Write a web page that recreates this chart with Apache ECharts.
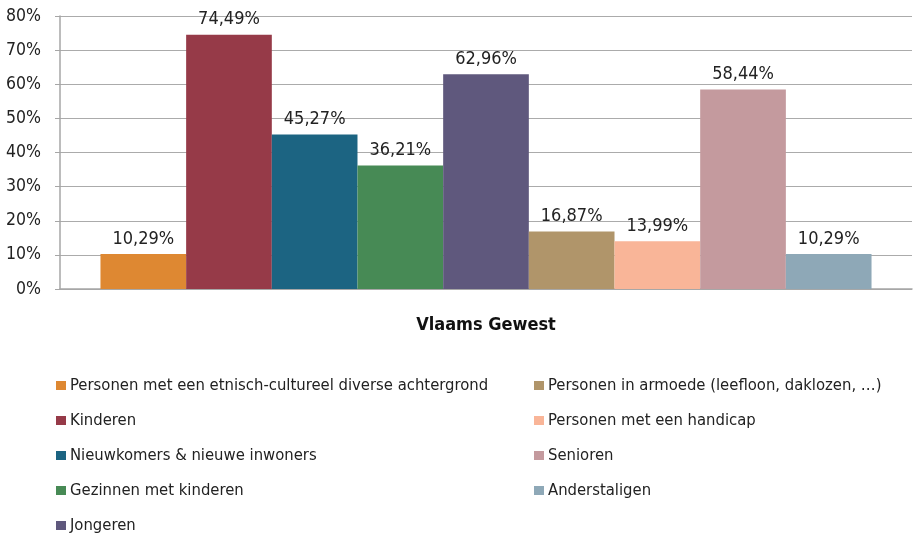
<!DOCTYPE html>
<html>
<head>
<meta charset="utf-8">
<script src="https://cdn.jsdelivr.net/npm/echarts@6/dist/echarts.min.js"></script>
<style>html,body{margin:0;padding:0;background:#fff}#c{width:913px;height:536px}</style>
</head>
<body>
<div id="c"></div>
<script>
const categories = ['Vlaams Gewest'];
const seriesNames = [
  'Personen met een etnisch-cultureel diverse achtergrond',
  'Kinderen',
  'Nieuwkomers & nieuwe inwoners',
  'Gezinnen met kinderen',
  'Jongeren',
  'Personen in armoede (leefloon, daklozen, …)',
  'Personen met een handicap',
  'Senioren',
  'Anderstaligen'
];
const values = [10.29, 74.49, 45.27, 36.21, 62.96, 16.87, 13.99, 58.44, 10.29];
const colors = ['#DE8832', '#963A48', '#1C6482', '#478A55', '#5F587D', '#B0956A', '#F9B598', '#C49A9E', '#8EA8B7'];
const yTicks = [0, 10, 20, 30, 40, 50, 60, 70, 80];

const FONT = '"Liberation Sans Narrow", "DejaVu Sans Condensed", "Roboto Condensed", sans-serif';
const chart = echarts.init(document.getElementById('c'));
const series = seriesNames.map((name, i) => ({
  name: name,
  type: 'bar',
  data: [values[i]],
  itemStyle: { color: colors[i] },
  barGap: '0%',
  barCategoryGap: '9.5%',
  label: {
    show: true,
    position: 'top',
    distance: 6,
    color: '#222',
    fontFamily: FONT,
    fontSize: 18,
    formatter: p => p.value.toFixed(2).replace('.', ',') + '%'
  }
}));
const legendBase = {
  orient: 'vertical',
  itemWidth: 10,
  itemHeight: 9,
  itemGap: 18,
  icon: 'rect',
  textStyle: { fontFamily: FONT, fontSize: 16.5, color: '#222', padding: [0, 0, 0, -1] },
  padding: 0
};
chart.setOption({
  animation: false,
  color: colors,
  grid: { left: 60, right: 1, top: 16, bottom: 247, containLabel: false },
  legend: [
    Object.assign({}, legendBase, { left: 56, top: 377, data: seriesNames.slice(0, 5) }),
    Object.assign({}, legendBase, { left: 534, top: 377, data: seriesNames.slice(5) })
  ],
  xAxis: {
    type: 'category',
    data: categories,
    axisLine: { lineStyle: { color: '#A6A6A6', width: 1.5 } },
    axisTick: { show: false },
    axisLabel: { margin: 27, color: '#111', fontFamily: FONT, fontSize: 18, fontWeight: 'bold' }
  },
  yAxis: {
    type: 'value',
    min: yTicks[0],
    max: yTicks[yTicks.length - 1],
    interval: 10,
    axisLine: { show: true, lineStyle: { color: '#A6A6A6', width: 1.5 } },
    axisTick: { show: true, length: 5, lineStyle: { color: '#A6A6A6' } },
    splitLine: { lineStyle: { color: '#ABABAB', width: 1.2 } },
    axisLabel: { margin: 19, color: '#222', fontFamily: FONT, fontSize: 17.5, padding: [6, 0, 0, 0], formatter: '{value}%' }
  },
  series: series
});
</script>
</body>
</html>
